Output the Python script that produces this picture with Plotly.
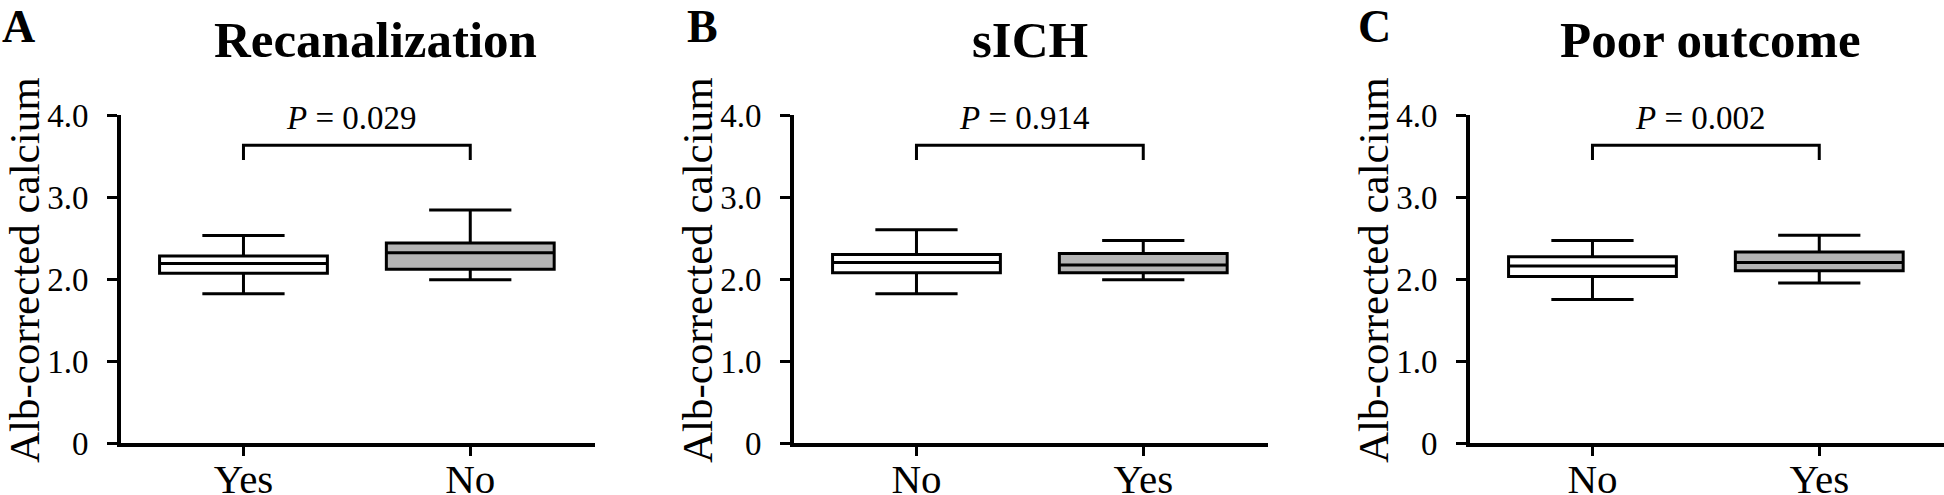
import plotly.graph_objects as go

# panel data
titles = ["Recanalization", "sICH", "Poor outcome"]
letters = ["A", "B", "C"]
categories = [["Yes", "No"], ["No", "Yes"], ["No", "Yes"]]
p_texts = ["0.029", "0.914", "0.002"]

q1 = [[2.07, 2.12], [2.075, 2.075], [2.03, 2.10]]
median = [[2.19, 2.32], [2.20, 2.17], [2.16, 2.20]]
q3 = [[2.28, 2.44], [2.30, 2.31], [2.27, 2.33]]
lower = [[1.82, 1.99], [1.82, 1.99], [1.75, 1.95]]
upper = [[2.53, 2.84], [2.60, 2.47], [2.47, 2.535]]

bracket_top = 3.63
bracket_foot = 3.45
p_y = 3.96

y_ticks = [0, 1, 2, 3, 4]
y_ticktext = ["0", "1.0", "2.0", "3.0", "4.0"]

fills = ["white", "#b5b5b5"]
FONT = "Liberation Serif"

W, H = 1944, 495


def px(x):
    return x / W


def py(y):
    return 1 - y / H


# pixel layout measured on the reference
x_left = [121, 794, 1470]
x_right = [595, 1268, 1944]
title_x = [375, 1030, 1710]
letter_x = [0, 685, 1356]
x_domains = [[px(a), px(b)] for a, b in zip(x_left, x_right)]
y_domain = [py(443), py(115)]

fig = go.Figure()
annotations = []

for i in range(3):
    xa = "x" if i == 0 else f"x{i + 1}"
    ya = "y" if i == 0 else f"y{i + 1}"
    cats = categories[i]
    for j, cat in enumerate(cats):
        fig.add_trace(go.Box(
            x=[cat], q1=[q1[i][j]], median=[median[i][j]], q3=[q3[i][j]],
            lowerfence=[lower[i][j]], upperfence=[upper[i][j]],
            fillcolor=fills[j], line=dict(color="black", width=3),
            width=0.74, whiskerwidth=0.49, boxpoints=False,
            xaxis=xa, yaxis=ya, showlegend=False, hoverinfo="skip",
        ))
    # significance bracket
    fig.add_trace(go.Scatter(
        x=[cats[0], cats[0], cats[1], cats[1]],
        y=[bracket_foot, bracket_top, bracket_top, bracket_foot],
        mode="lines", line=dict(color="black", width=3),
        xaxis=xa, yaxis=ya, showlegend=False, hoverinfo="skip",
    ))
    annotations.append(dict(
        x=0.5, xref=xa, y=p_y, yref=ya, xanchor="center", yanchor="middle",
        text=f"<i>P</i> = {p_texts[i]}", showarrow=False, xshift=-5,
        font=dict(family=FONT, size=33, color="black"),
    ))
    # panel title
    annotations.append(dict(
        x=px(title_x[i]), xref="paper", y=py(40), yref="paper",
        xanchor="center", yanchor="middle",
        text=f"<b>{titles[i]}</b>", showarrow=False,
        font=dict(family=FONT, size=51, color="black"),
    ))
    # panel letter
    annotations.append(dict(
        x=px(letter_x[i]), xref="paper", y=py(26), yref="paper",
        xanchor="left", yanchor="middle",
        text=f"<b>{letters[i]}</b>", showarrow=False,
        font=dict(family=FONT, size=46, color="black"),
    ))
    # y axis title
    annotations.append(dict(
        x=px(x_left[i] - 97), xref="paper", y=py(270), yref="paper",
        xanchor="center", yanchor="middle",
        text="Alb-corrected calcium", textangle=-90, showarrow=False,
        font=dict(family=FONT, size=43, color="black"),
    ))

    fig.update_layout(**{
        f"xaxis{'' if i == 0 else i + 1}": dict(
            domain=x_domains[i], anchor=ya, type="category",
            categoryorder="array", categoryarray=cats,
            range=[-0.54, 1.55], showline=True, linecolor="black", linewidth=4,
            ticks="outside", ticklen=9, tickwidth=3, tickcolor="black",
            ticklabelstandoff=-12, automargin=False,
            showgrid=False, zeroline=False, fixedrange=True,
            tickfont=dict(family=FONT, size=41, color="black"),
        ),
        f"yaxis{'' if i == 0 else i + 1}": dict(
            domain=y_domain, anchor=xa, range=[0, 4.0],
            tickvals=y_ticks, ticktext=y_ticktext,
            showline=True, linecolor="black", linewidth=4,
            ticks="outside", ticklen=10, tickwidth=3, tickcolor="black",
            ticklabelstandoff=12, automargin=False,
            showgrid=False, zeroline=False, fixedrange=True,
            tickfont=dict(family=FONT, size=33, color="black"),
        ),
    })

fig.update_layout(
    width=W, height=H, autosize=False,
    margin=dict(l=0, r=0, t=0, b=0, pad=0, autoexpand=False),
    plot_bgcolor="white", paper_bgcolor="white",
    annotations=annotations,
    showlegend=False,
)

# drop the default page margin so the figure sits at the window's corner
fig.write_html(
    "out.html",
    config={"displayModeBar": False},
    post_script="document.body.style.margin='0';document.body.style.overflow='hidden';",
)
